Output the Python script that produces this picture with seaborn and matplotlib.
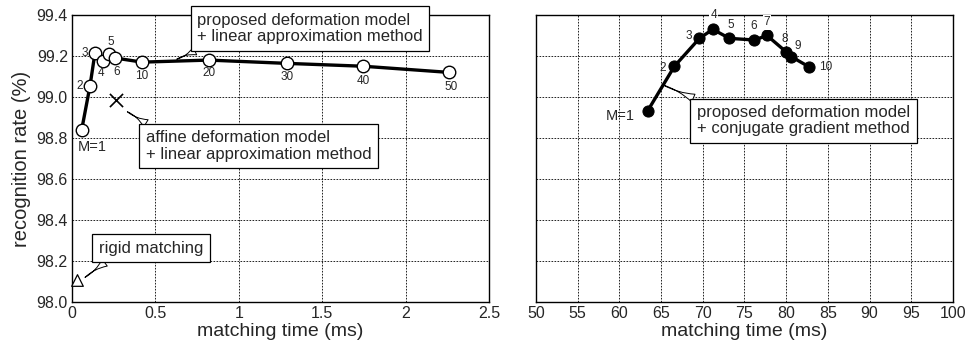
"""
Recognition rate vs matching time for the deformation models (two panels).
"""

import numpy as np
import pandas as pd
import matplotlib.pyplot as plt
import matplotlib.ticker as mticker
import seaborn as sns

# left panel: proposed deformation model + linear approximation (M = 1..50)
lin_m = ["M=1", "2", "3", "4", "5", "6", "10", "20", "30", "40", "50"]
lin_time = [0.058, 0.108, 0.138, 0.188, 0.224, 0.260, 0.420, 0.820, 1.287, 1.747, 2.260]
lin_rate = [98.839, 99.054, 99.216, 99.176, 99.210, 99.190, 99.170, 99.180, 99.164, 99.150, 99.120]
# label offsets (pixels) around each point
lin_off = [(11, -17), (-10, 0), (-10, 0), (-2, -12), (1, 12), (1, -14),
           (0, -14), (0, -13), (0, -14), (0, -15), (2, -15)]

affine_time = [0.264]
affine_rate = [98.985]
rigid_time = [0.032]
rigid_rate = [98.107]

# right panel: proposed deformation model + conjugate gradient (M = 1..10)
cg_m = ["M=1", "2", "3", "4", "5", "6", "7", "8", "9", "10"]
cg_time = [63.4, 66.6, 69.6, 71.2, 73.2, 76.2, 77.7, 80.0, 80.6, 82.7]
cg_rate = [98.933, 99.150, 99.286, 99.330, 99.286, 99.278, 99.300, 99.220, 99.197, 99.148]
cg_off = [(-27, -5), (-12, -2), (-11, 2), (1, 14), (1, 13), (-1, 14),
          (0, 13), (-1, 13), (7, 11), (17, 0)]

y_ticks = np.arange(98.0, 99.41, 0.2)

sns.set_style("white")
plt.rcParams["font.family"] = ["Liberation Sans", "DejaVu Sans"]

fig = plt.figure(figsize=(9.74, 3.51), dpi=100)
ax1 = fig.add_axes([0.0739, 0.1396, 0.4281, 0.8177])
ax2 = fig.add_axes([0.5503, 0.1396, 0.4281, 0.8177])

grid_kw = dict(color="black", linestyle=(0, (2, 1.6)), linewidth=0.6)


def style_axes(ax, xlim, xticks):
    ax.set_xlim(*xlim)
    ax.set_ylim(98.0, 99.4)
    ax.set_xticks(xticks)
    ax.set_yticks(y_ticks)
    ax.grid(True, **grid_kw)
    ax.set_axisbelow(True)
    for s in ax.spines.values():
        s.set_color("black")
        s.set_linewidth(1.0)
    ax.tick_params(axis="y", direction="in", length=4, width=0.8, labelsize=11.5, pad=3)
    ax.tick_params(axis="x", length=0, labelsize=11.5, pad=3)


style_axes(ax1, (0, 2.5), np.arange(0, 2.51, 0.5))
ax1.xaxis.set_major_formatter(mticker.FuncFormatter(lambda v, p: f"{v:g}"))
ax1.yaxis.set_major_formatter(mticker.FormatStrFormatter("%.1f"))

style_axes(ax2, (50, 100), np.arange(50, 101, 5))
ax2.set_yticklabels([])

# left panel curves
lin = pd.DataFrame({"time": lin_time, "rate": lin_rate})
sns.lineplot(data=lin, x="time", y="rate", ax=ax1, sort=False, color="black",
             linewidth=2.4, marker="o", markersize=9, markerfacecolor="white",
             markeredgecolor="black", markeredgewidth=1.0, zorder=4)
for lab, x, y, off in zip(lin_m, lin_time, lin_rate, lin_off):
    fs = 10.5 if lab.startswith("M") else 8.5
    ax1.annotate(lab, (x, y), xytext=off, textcoords="offset pixels",
                 ha="center", va="center", fontsize=fs, zorder=5)

sns.scatterplot(x=affine_time, y=affine_rate, ax=ax1, marker="x", s=90,
                color="black", linewidth=1.2, zorder=4)
sns.scatterplot(x=rigid_time, y=rigid_rate, ax=ax1, marker="^", s=70,
                facecolor="white", edgecolor="black", linewidth=0.9, zorder=4,
                clip_on=False)

# right panel curve
cg = pd.DataFrame({"time": cg_time, "rate": cg_rate})
sns.lineplot(data=cg, x="time", y="rate", ax=ax2, sort=False, color="black",
             linewidth=2.4, marker="o", markersize=8, markerfacecolor="black",
             markeredgecolor="black", zorder=4)
for lab, x, y, off in zip(cg_m, cg_time, cg_rate, cg_off):
    fs = 10.5 if lab.startswith("M") else 8.5
    bb = dict(boxstyle="square,pad=0.1", fc="white", ec="none") if lab in ("4", "7") else None
    ax2.annotate(lab, (x, y), xytext=off, textcoords="offset pixels",
                 ha="center", va="center", fontsize=fs, zorder=5, bbox=bb,
                 annotation_clip=False)

ax1.set_xlabel("matching time (ms)", fontsize=14, labelpad=1)
ax1.set_ylabel("recognition rate (%)", fontsize=14.5, labelpad=4)
ax2.set_xlabel("matching time (ms)", fontsize=14, labelpad=1)
ax2.set_ylabel("")

# callout boxes with speech-bubble pointers
box_kw = dict(boxstyle="square,pad=0.4", fc="white", ec="black", lw=0.9)


def callout(ax, text, tip, box_xy, rel):
    ax.annotate(text, xy=tip, xytext=box_xy, fontsize=12, ha="center",
                va="center", multialignment="left", linespacing=1.1,
                bbox=box_kw,
                arrowprops=dict(arrowstyle="wedge,tail_width=0.5,shrink_factor=0.05",
                                fc="white", ec="black", lw=0.7, relpos=rel,
                                shrinkA=0, shrinkB=0),
                zorder=6, annotation_clip=False)


callout(ax1, "proposed deformation model\n+ linear approximation method",
        (0.628, 99.184), (1.427, 99.335), (0.06, 0.0))
callout(ax1, "affine deformation model\n+ linear approximation method",
        (0.332, 98.928), (1.121, 98.761), (0.05, 1.0))
callout(ax1, "rigid matching", (0.078, 98.12), (0.473, 98.263), (0.15, 0.0))
callout(ax2, "proposed deformation model\n+ conjugate gradient method",
        (65.28, 99.058), (82.08, 98.884), (0.06, 1.0))

fig.savefig("out.png", dpi=100)
